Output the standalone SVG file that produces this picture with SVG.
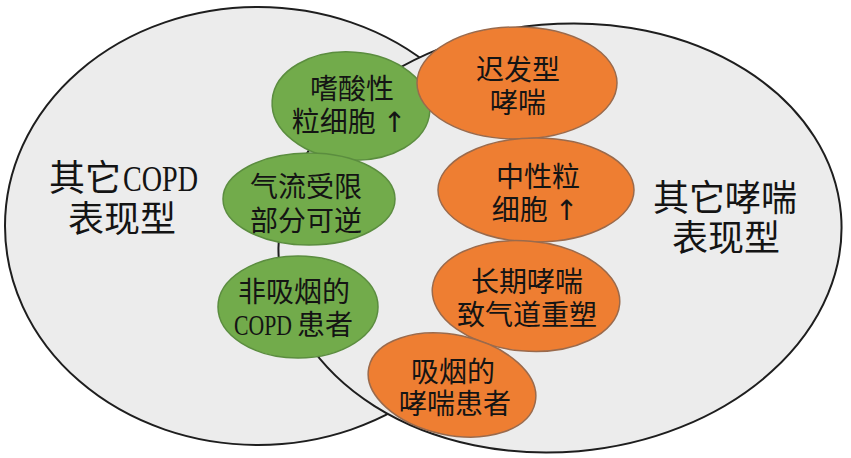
<svg xmlns="http://www.w3.org/2000/svg" width="851" height="458" viewBox="0 0 851 458">
  <style>
    .set { fill: #ececec; stroke: #1e1e1e; stroke-width: 2; }
    .green { fill: #72ab4b; stroke: #5b8d3f; stroke-width: 1.5; }
    .orange { fill: #ee7e32; stroke: #9a6a4c; stroke-width: 1.5; }
    text { font-family: "Liberation Serif", "Noto Sans CJK SC", serif; fill: #141414; }
    .big { font-size: 36px; }
    .lbl { font-size: 28px; text-anchor: middle; }
    .lbls { font-size: 28px; }
    .arr { font-family: "DejaVu Sans", sans-serif; }
  </style>
  <rect width="851" height="458" fill="#ffffff"/>
  <g id="copd-set">
    <ellipse class="set" cx="258" cy="226" rx="253" ry="219"/>
  </g>
  <g id="asthma-set">
    <ellipse class="set" cx="560" cy="238" rx="282" ry="214" transform="rotate(-5 560 238)"/>
  </g>
  <g id="connectors"/>
  <g id="label-copd">
    <text class="big" x="49" y="191">其它<tspan x="123" textLength="75" lengthAdjust="spacingAndGlyphs">COPD</tspan></text>
    <text class="big" x="122" y="232" text-anchor="middle">表现型</text>
  </g>
  <g id="label-asthma">
    <text class="big" x="725" y="211" text-anchor="middle">其它哮喘</text>
    <text class="big" x="726" y="251" text-anchor="middle">表现型</text>
  </g>
  <g id="node-eos">
    <ellipse class="green" cx="351" cy="106" rx="79" ry="54" transform="rotate(4 351 106)"/>
    <text class="lbl" x="352" y="99">嗜酸性</text>
    <text class="lbl" x="349" y="132">粒细胞 <tspan class="arr">↑</tspan></text>
  </g>
  <g id="node-airflow">
    <ellipse class="green" cx="309" cy="199" rx="86" ry="46"/>
    <text class="lbl" x="306" y="197">气流受限</text>
    <text class="lbl" x="306" y="231">部分可逆</text>
  </g>
  <g id="node-nonsmoker">
    <ellipse class="green" cx="298" cy="307" rx="80" ry="51"/>
    <text class="lbl" x="294" y="302">非吸烟的</text>
    <text style="font-size:30px" transform="translate(234 335) scale(0.725 1)">COPD</text>
    <text class="lbls" x="297" y="335">患者</text>
  </g>
  <g id="node-late">
    <ellipse class="orange" cx="517" cy="83" rx="100" ry="56"/>
    <text class="lbl" x="518" y="80">迟发型</text>
    <text class="lbl" x="518" y="113">哮喘</text>
  </g>
  <g id="node-neut">
    <ellipse class="orange" cx="536" cy="190" rx="98" ry="52"/>
    <text class="lbl" x="538" y="187">中性粒</text>
    <text class="lbl" x="535" y="220">细胞 <tspan class="arr">↑</tspan></text>
  </g>
  <g id="node-remodel">
    <ellipse class="orange" cx="526" cy="296" rx="94" ry="55" transform="rotate(5 526 296)"/>
    <text class="lbl" x="527" y="292">长期哮喘</text>
    <text class="lbl" x="527" y="325">致气道重塑</text>
  </g>
  <g id="node-smoker">
    <ellipse class="orange" cx="452" cy="385" rx="85" ry="50" transform="rotate(12 452 385)"/>
    <text class="lbl" x="453" y="382">吸烟的</text>
    <text class="lbl" x="455" y="414">哮喘患者</text>
  </g>
</svg>
